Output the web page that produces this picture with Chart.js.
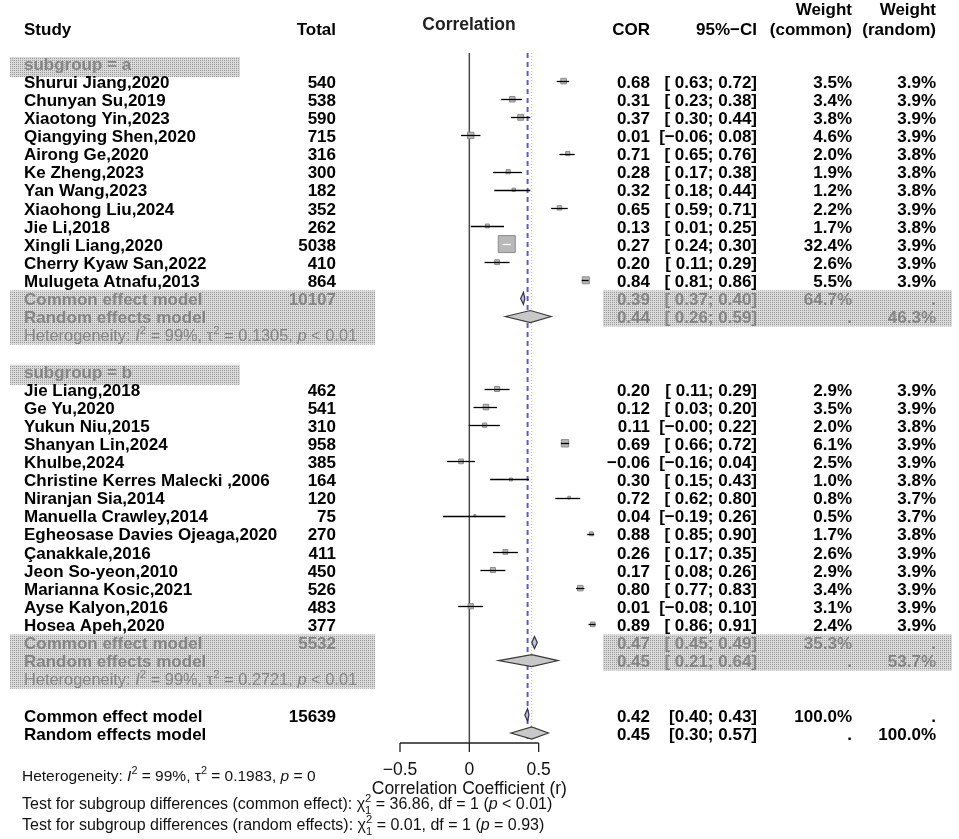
<!DOCTYPE html>
<html>
<head>
<meta charset="utf-8">
<script src="https://cdn.jsdelivr.net/npm/chart.js@4.4.1/dist/chart.umd.min.js"></script>
<style>
  html, body { margin: 0; background: #fff; }
</style>
</head>
<body>
<canvas id="forest" width="959" height="839"></canvas>
<script>
// --- Dados do gráfico ---
const groupLabels = ['subgroup = a', 'subgroup = b'];

const studiesA = ['Shurui Jiang,2020', 'Chunyan Su,2019', 'Xiaotong Yin,2023', 'Qiangying Shen,2020',
  'Airong Ge,2020', 'Ke Zheng,2023', 'Yan Wang,2023', 'Xiaohong Liu,2024', 'Jie Li,2018',
  'Xingli Liang,2020', 'Cherry Kyaw San,2022', 'Mulugeta Atnafu,2013'];
const totalsA = [540, 538, 590, 715, 316, 300, 182, 352, 262, 5038, 410, 864];
const corA = [0.68, 0.31, 0.37, 0.01, 0.71, 0.28, 0.32, 0.65, 0.13, 0.27, 0.20, 0.84];
const lowerA = [0.63, 0.23, 0.30, -0.06, 0.65, 0.17, 0.18, 0.59, 0.01, 0.24, 0.11, 0.81];
const upperA = [0.72, 0.38, 0.44, 0.08, 0.76, 0.38, 0.44, 0.71, 0.25, 0.30, 0.29, 0.86];
const wCommonA = [3.5, 3.4, 3.8, 4.6, 2.0, 1.9, 1.2, 2.2, 1.7, 32.4, 2.6, 5.5];
const wRandomA = [3.9, 3.9, 3.9, 3.9, 3.8, 3.8, 3.8, 3.9, 3.8, 3.9, 3.9, 3.9];

const studiesB = ['Jie Liang,2018', 'Ge Yu,2020', 'Yukun Niu,2015', 'Shanyan Lin,2024', 'Khulbe,2024',
  'Christine Kerres Malecki ,2006', 'Niranjan Sia,2014', 'Manuella Crawley,2014',
  'Egheosase Davies Ojeaga,2020', 'Çanakkale,2016', 'Jeon So-yeon,2010', 'Marianna Kosic,2021',
  'Ayse Kalyon,2016', 'Hosea Apeh,2020'];
const totalsB = [462, 541, 310, 958, 385, 164, 120, 75, 270, 411, 450, 526, 483, 377];
const corB = [0.20, 0.12, 0.11, 0.69, -0.06, 0.30, 0.72, 0.04, 0.88, 0.26, 0.17, 0.80, 0.01, 0.89];
const lowerB = [0.11, 0.03, -0.004, 0.66, -0.16, 0.15, 0.62, -0.19, 0.85, 0.17, 0.08, 0.77, -0.08, 0.86];
const upperB = [0.29, 0.20, 0.22, 0.72, 0.04, 0.43, 0.80, 0.26, 0.90, 0.35, 0.26, 0.83, 0.10, 0.91];
const wCommonB = [2.9, 3.5, 2.0, 6.1, 2.5, 1.0, 0.8, 0.5, 1.7, 2.6, 2.9, 3.4, 3.1, 2.4];
const wRandomB = [3.9, 3.9, 3.8, 3.9, 3.9, 3.8, 3.7, 3.7, 3.8, 3.9, 3.9, 3.9, 3.9, 3.9];

// modelos: [subgrupo a, subgrupo b, global]
const commonTotal = [10107, 5532, 15639];
const commonCor = [0.39, 0.47, 0.42];
const commonLower = [0.37, 0.45, 0.40];
const commonUpper = [0.40, 0.49, 0.43];
const commonWeight = [64.7, 35.3, 100.0];
const randomCor = [0.44, 0.45, 0.45];
const randomLower = [0.26, 0.21, 0.30];
const randomUpper = [0.59, 0.64, 0.57];
const randomWeight = [46.3, 53.7, 100.0];
const hetI2 = ['99%', '99%', '99%'];
const hetTau2 = ['0.1305', '0.2721', '0.1983'];
const hetP = ['< 0.01', '< 0.01', '= 0'];

const axisTicks = [-0.5, 0, 0.5];
const axisTitle = 'Correlation Coefficient (r)';
const xMax = 1.0; // área do gráfico vai além do eixo desenhado (pontos > 0.5)

// --- Estilos ---
const FONT = "'Liberation Sans', Arial, sans-serif";
const BOLD = `bold 17px ${FONT}`;
const GREY_TXT = '#858585';
const COL = { study: 24, total: 336, cor: 650, ci: 757, wCom: 852, wRan: 936 };

const groups = [
  { names: studiesA, totals: totalsA, cor: corA, lo: lowerA, hi: upperA, wc: wCommonA, wr: wRandomA },
  { names: studiesB, totals: totalsB, cor: corB, lo: lowerB, hi: upperB, wc: wCommonB, wr: wRandomB }
];

// linhas da tabela (índices no eixo y)
let rowCursor = 0;
groups.forEach(g => {
  g.labelRow = rowCursor;
  g.first = rowCursor + 1;
  g.commonRow = g.first + g.names.length;
  g.randomRow = g.commonRow + 1;
  g.hetRow = g.commonRow + 2;
  rowCursor = g.hetRow + 2;
});
const overallCommonRow = rowCursor;
const overallRandomRow = rowCursor + 1;

const fmt = (v) => v.toFixed(2).replace('-', '\u2212');
const fmtCI = (lo, hi, pad) => {
  const l = fmt(lo);
  return '[' + (pad && !l.startsWith('\u2212') ? ' ' : '') + l + '; ' + fmt(hi) + ']';
};
const squareSide = (w) => 17 * Math.sqrt(w / 32.4);

// padrão pontilhado das faixas cinzas
function makePattern(ctx) {
  const c = document.createElement('canvas');
  c.width = 2; c.height = 2;
  const p = c.getContext('2d');
  p.fillStyle = '#dadada'; p.fillRect(0, 0, 2, 2);
  p.fillStyle = '#9a9a9a'; p.fillRect(0, 0, 1, 1);
  return ctx.createPattern(c, 'repeat');
}

// texto com itálico / sobrescrito / subscrito
function drawRich(ctx, x, y, parts, size, color, weight) {
  const w = weight ? weight + ' ' : '';
  ctx.save();
  ctx.fillStyle = color;
  ctx.textAlign = 'left';
  ctx.textBaseline = 'middle';
  parts.forEach(([t, kind]) => {
    if (kind === 'i') {
      ctx.font = `italic ${w}${size}px ${FONT}`;
      ctx.fillText(t, x, y); x += ctx.measureText(t).width;
    } else if (kind === 'sup') {
      ctx.font = `${w}${size * 0.7}px ${FONT}`;
      ctx.fillText(t, x, y - size * 0.38); x += ctx.measureText(t).width;
    } else if (kind === 'supsub') {
      const [a, b] = t.split('|');
      ctx.font = `${w}${size * 0.7}px ${FONT}`;
      ctx.fillText(a, x, y - size * 0.4);
      ctx.fillText(b, x, y + size * 0.35);
      x += Math.max(ctx.measureText(a).width, ctx.measureText(b).width);
    } else {
      ctx.font = `${w}${size}px ${FONT}`;
      ctx.fillText(t, x, y); x += ctx.measureText(t).width;
    }
  });
  ctx.restore();
}

function hetParts(i) {
  return [['Heterogeneity: '], ['I', 'i'], ['2', 'sup'], [' = ' + hetI2[i] + ', '], ['\u03c4'], ['2', 'sup'],
    [' = ' + hetTau2[i] + ', '], ['p', 'i'], [' ' + hetP[i]]];
}

function text(ctx, t, x, y, align, font, color) {
  ctx.font = font;
  ctx.fillStyle = color;
  ctx.textAlign = align;
  ctx.textBaseline = 'middle';
  ctx.fillText(t, x, y);
}

function diamond(ctx, xs, yc, lo, est, hi, fill, stroke) {
  const h = 6;
  ctx.beginPath();
  ctx.moveTo(xs.getPixelForValue(lo), yc);
  ctx.lineTo(xs.getPixelForValue(est), yc - h);
  ctx.lineTo(xs.getPixelForValue(hi), yc);
  ctx.lineTo(xs.getPixelForValue(est), yc + h);
  ctx.closePath();
  ctx.fillStyle = fill;
  ctx.fill();
  ctx.lineWidth = 1.2;
  ctx.strokeStyle = stroke;
  ctx.stroke();
}

const forestPlugin = {
  id: 'forest',
  beforeDatasetsDraw(chart) {
    const { ctx, scales: { x: xs, y: ys }, chartArea } = chart;
    const pat = makePattern(ctx);
    ctx.save();
    ctx.fillStyle = pat;
    groups.forEach(g => {
      const yl = ys.getPixelForValue(g.labelRow);
      ctx.fillRect(10, yl - 6, 230, 20);
      const yc = ys.getPixelForValue(g.commonRow);
      ctx.fillRect(10, yc - 8, 365, ys.getPixelForValue(g.hetRow) + 10 - (yc - 8));
      ctx.fillRect(603, yc - 8, 349, ys.getPixelForValue(g.randomRow) + 10 - (yc - 8));
    });

    // linha do zero e eixo
    const top = chartArea.top - 10;
    const axisY = chartArea.bottom + 10;
    ctx.strokeStyle = '#4a4a4a';
    ctx.lineWidth = 1.5;
    ctx.beginPath();
    ctx.moveTo(xs.getPixelForValue(0), top);
    ctx.lineTo(xs.getPixelForValue(0), axisY);
    ctx.stroke();

    ctx.lineWidth = 1.3;
    ctx.strokeStyle = '#222';
    ctx.beginPath();
    ctx.moveTo(xs.getPixelForValue(axisTicks[0]), axisY);
    ctx.lineTo(xs.getPixelForValue(axisTicks[axisTicks.length - 1]), axisY);
    axisTicks.forEach(t => {
      ctx.moveTo(xs.getPixelForValue(t), axisY);
      ctx.lineTo(xs.getPixelForValue(t), axisY + 9);
    });
    ctx.stroke();
    axisTicks.forEach(t => text(ctx, t === 0 ? '0' : String(t).replace('-', '\u2212'),
      xs.getPixelForValue(t), axisY + 27, 'center', `17.5px ${FONT}`, '#111'));
    text(ctx, axisTitle, xs.getPixelForValue(0), axisY + 46, 'center', `17.5px ${FONT}`, '#111');

    // linhas de referência (comum = tracejada, aleatório = pontilhada)
    ctx.setLineDash([1, 2]);
    ctx.strokeStyle = '#e0a98e';
    ctx.lineWidth = 1;
    ctx.beginPath();
    ctx.moveTo(xs.getPixelForValue(randomCor[2]), top);
    ctx.lineTo(xs.getPixelForValue(randomCor[2]), axisY - 4);
    ctx.stroke();
    ctx.setLineDash([5, 4]);
    ctx.strokeStyle = '#5c5cd0';
    ctx.lineWidth = 2;
    ctx.beginPath();
    ctx.moveTo(xs.getPixelForValue(commonCor[2]), top);
    ctx.lineTo(xs.getPixelForValue(commonCor[2]), axisY - 4);
    ctx.stroke();
    ctx.restore();
  },
  afterDatasetsDraw(chart) {
    const { ctx, scales: { x: xs, y: ys } } = chart;
    ctx.save();
    // intervalos de confiança
    groups.forEach(g => {
      g.cor.forEach((c, i) => {
        const y = Math.round(ys.getPixelForValue(g.first + i)) + 0.5;
        const x1 = xs.getPixelForValue(g.lo[i]);
        const x2 = xs.getPixelForValue(g.hi[i]);
        const xc = xs.getPixelForValue(c);
        const half = squareSide(g.wc[i]) / 2;
        const inside = x1 >= xc - half && x2 <= xc + half;
        ctx.strokeStyle = inside ? '#fff' : '#000';
        ctx.lineWidth = 1.3;
        ctx.beginPath();
        ctx.moveTo(x1, y);
        ctx.lineTo(x2, y);
        ctx.stroke();
      });
    });
    // diamantes
    groups.forEach((g, gi) => {
      diamond(ctx, xs, ys.getPixelForValue(g.commonRow), commonLower[gi], commonCor[gi], commonUpper[gi], '#c4c4c4', '#30305a');
      diamond(ctx, xs, ys.getPixelForValue(g.randomRow), randomLower[gi], randomCor[gi], randomUpper[gi], '#c8c8c8', '#3a3a3a');
    });
    diamond(ctx, xs, ys.getPixelForValue(overallCommonRow), commonLower[2], commonCor[2], commonUpper[2], '#c4c4c4', '#30305a');
    diamond(ctx, xs, ys.getPixelForValue(overallRandomRow), randomLower[2], randomCor[2], randomUpper[2], '#c8c8c8', '#3a3a3a');
    ctx.restore();
  },
  afterDraw(chart) {
    const { ctx, scales: { y: ys } } = chart;
    const ty = (r) => ys.getPixelForValue(r) + 2;
    ctx.save();
    // cabeçalho
    text(ctx, 'Study', COL.study, 30, 'left', BOLD, '#000');
    text(ctx, 'Total', COL.total, 30, 'right', BOLD, '#000');
    text(ctx, 'Correlation', 469, 25, 'center', `bold 17.5px ${FONT}`, '#222');
    text(ctx, 'COR', COL.cor, 30, 'right', BOLD, '#000');
    text(ctx, '95%\u2212CI', COL.ci, 30, 'right', BOLD, '#000');
    text(ctx, 'Weight', COL.wCom, 10, 'right', BOLD, '#000');
    text(ctx, '(common)', COL.wCom, 30, 'right', BOLD, '#000');
    text(ctx, 'Weight', COL.wRan, 10, 'right', BOLD, '#000');
    text(ctx, '(random)', COL.wRan, 30, 'right', BOLD, '#000');

    groups.forEach((g, gi) => {
      text(ctx, groupLabels[gi], COL.study, ty(g.labelRow), 'left', BOLD, GREY_TXT);
      g.names.forEach((n, i) => {
        const y = ty(g.first + i);
        text(ctx, n, COL.study, y, 'left', BOLD, '#000');
        text(ctx, String(g.totals[i]), COL.total, y, 'right', BOLD, '#000');
        text(ctx, fmt(g.cor[i]), COL.cor, y, 'right', BOLD, '#000');
        text(ctx, fmtCI(g.lo[i], g.hi[i], true), COL.ci, y, 'right', BOLD, '#000');
        text(ctx, g.wc[i].toFixed(1) + '%', COL.wCom, y, 'right', BOLD, '#000');
        text(ctx, g.wr[i].toFixed(1) + '%', COL.wRan, y, 'right', BOLD, '#000');
      });
      let y = ty(g.commonRow);
      text(ctx, 'Common effect model', COL.study, y, 'left', BOLD, GREY_TXT);
      text(ctx, String(commonTotal[gi]), COL.total, y, 'right', BOLD, GREY_TXT);
      text(ctx, fmt(commonCor[gi]), COL.cor, y, 'right', BOLD, GREY_TXT);
      text(ctx, fmtCI(commonLower[gi], commonUpper[gi], true), COL.ci, y, 'right', BOLD, GREY_TXT);
      text(ctx, commonWeight[gi].toFixed(1) + '%', COL.wCom, y, 'right', BOLD, GREY_TXT);
      text(ctx, '.', COL.wRan, y, 'right', BOLD, GREY_TXT);
      y = ty(g.randomRow);
      text(ctx, 'Random effects model', COL.study, y, 'left', BOLD, GREY_TXT);
      text(ctx, fmt(randomCor[gi]), COL.cor, y, 'right', BOLD, GREY_TXT);
      text(ctx, fmtCI(randomLower[gi], randomUpper[gi], true), COL.ci, y, 'right', BOLD, GREY_TXT);
      text(ctx, '.', COL.wCom, y, 'right', BOLD, GREY_TXT);
      text(ctx, randomWeight[gi].toFixed(1) + '%', COL.wRan, y, 'right', BOLD, GREY_TXT);
      drawRich(ctx, COL.study, ty(g.hetRow), hetParts(gi), 16.4, GREY_TXT);
    });

    // modelos globais
    let y = ty(overallCommonRow);
    text(ctx, 'Common effect model', COL.study, y, 'left', BOLD, '#000');
    text(ctx, String(commonTotal[2]), COL.total, y, 'right', BOLD, '#000');
    text(ctx, fmt(commonCor[2]), COL.cor, y, 'right', BOLD, '#000');
    text(ctx, fmtCI(commonLower[2], commonUpper[2], false), COL.ci, y, 'right', BOLD, '#000');
    text(ctx, commonWeight[2].toFixed(1) + '%', COL.wCom, y, 'right', BOLD, '#000');
    text(ctx, '.', COL.wRan, y, 'right', BOLD, '#000');
    y = ty(overallRandomRow);
    text(ctx, 'Random effects model', COL.study, y, 'left', BOLD, '#000');
    text(ctx, fmt(randomCor[2]), COL.cor, y, 'right', BOLD, '#000');
    text(ctx, fmtCI(randomLower[2], randomUpper[2], false), COL.ci, y, 'right', BOLD, '#000');
    text(ctx, '.', COL.wCom, y, 'right', BOLD, '#000');
    text(ctx, randomWeight[2].toFixed(1) + '%', COL.wRan, y, 'right', BOLD, '#000');

    // rodapé
    drawRich(ctx, 22, 777, hetParts(2), 15.5, '#111');
    drawRich(ctx, 22, 805, [['Test for subgroup differences (common effect): '], ['\u03c7'], ['2|1', 'supsub'],
      [' = 36.86, df = 1 ('], ['p', 'i'], [' < 0.01)']], 16, '#111');
    drawRich(ctx, 22, 826, [['Test for subgroup differences (random effects): '], ['\u03c7'], ['2|1', 'supsub'],
      [' = 0.01, df = 1 ('], ['p', 'i'], [' = 0.93)']], 16, '#111');
    ctx.restore();
  }
};

const ctx = document.getElementById('forest').getContext('2d');
new Chart(ctx, {
  type: 'scatter',
  data: {
    datasets: groups.map((g, gi) => ({
      label: groupLabels[gi],
      data: g.cor.map((c, i) => ({ x: c, y: g.first + i })),
      pointStyle: 'rect',
      pointRadius: g.wc.map(w => squareSide(w) / Math.SQRT2),
      pointHoverRadius: g.wc.map(w => squareSide(w) / Math.SQRT2),
      pointBackgroundColor: '#b8b8b8',
      pointBorderColor: '#8c8c8c',
      pointBorderWidth: 1,
      clip: false
    }))
  },
  options: {
    responsive: false,
    animation: false,
    events: [],
    layout: { padding: { left: 400, right: 351, top: 63, bottom: 106 } },
    scales: {
      x: { type: 'linear', min: axisTicks[0], max: xMax, display: false },
      y: { type: 'linear', min: 0, max: overallRandomRow, reverse: true, display: false }
    },
    plugins: { legend: { display: false }, tooltip: { enabled: false } }
  },
  plugins: [forestPlugin]
});
</script>
</body>
</html>
